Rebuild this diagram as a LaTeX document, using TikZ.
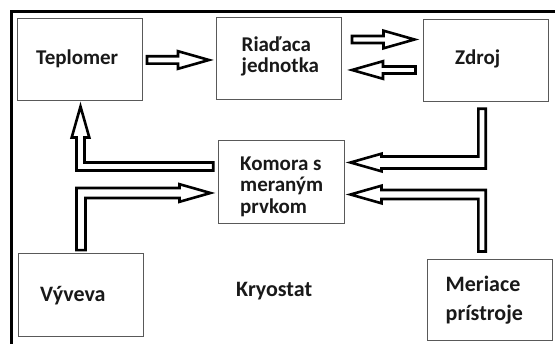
\documentclass[tikz,border=0pt]{standalone}
\usepackage{fontspec}
\setmainfont{Carlito}
\usetikzlibrary{calc}
\tikzset{
  box/.style={draw=black!65, line width=1pt, inner sep=0pt, minimum width=125pt, minimum height=82pt},
  txt/.style={font=\bfseries\fontsize{21}{21.3}\selectfont, inner sep=0pt, align=left, text=black!90},
  txtb/.style={font=\bfseries\fontsize{22}{29}\selectfont, inner sep=0pt, align=left, text=black!90},
  blk/.style={draw=black, fill=white, line width=2.6pt, line join=miter},
  frame/.style={draw=black, line width=3pt}
}
\def\aL{31pt}
\def\aH{8.8pt}
% straight block arrow: start, tip, shaft half width
\newcommand\blkS[3]{%
  \draw[blk] let \p1=(#1), \p2=(#2), \n1={sign(\x2-\x1)} in
  ({\x1},{\y1+#3}) -- ({\x2-(\n1)*\aL},{\y1+#3}) -- ({\x2-(\n1)*\aL},{\y1+\aH}) -- ({\x2},{\y1})
  -- ({\x2-(\n1)*\aL},{\y1-\aH}) -- ({\x2-(\n1)*\aL},{\y1-#3}) -- ({\x1},{\y1-#3}) -- cycle;}
% L block arrow, vertical then horizontal: start, tip, vertical half, horizontal half
\newcommand\blkVH[4]{%
  \draw[blk] let \p1=(#1), \p2=(#2), \n1={sign(\x2-\x1)}, \n2={sign(\y2-\y1)} in
  ({\x1+(\n1)*#3},{\y1}) -- ({\x1-(\n1)*#3},{\y1}) -- ({\x1-(\n1)*#3},{\y2+(\n2)*#4})
  -- ({\x2-(\n1)*\aL},{\y2+(\n2)*#4}) -- ({\x2-(\n1)*\aL},{\y2+(\n2)*\aH}) -- ({\x2},{\y2})
  -- ({\x2-(\n1)*\aL},{\y2-(\n2)*\aH}) -- ({\x2-(\n1)*\aL},{\y2-(\n2)*#4})
  -- ({\x1+(\n1)*#3},{\y2-(\n2)*#4}) -- cycle;}
% L block arrow, horizontal then vertical: start, tip, horizontal half, vertical half
\newcommand\blkHV[4]{%
  \draw[blk] let \p1=(#1), \p2=(#2), \n1={sign(\x2-\x1)}, \n2={sign(\y2-\y1)} in
  ({\x1},{\y1+(\n2)*#3}) -- ({\x1},{\y1-(\n2)*#3}) -- ({\x2+(\n1)*#4},{\y1-(\n2)*#3})
  -- ({\x2+(\n1)*#4},{\y2-(\n2)*\aL}) -- ({\x2+(\n1)*\aH},{\y2-(\n2)*\aL}) -- ({\x2},{\y2})
  -- ({\x2-(\n1)*\aH},{\y2-(\n2)*\aL}) -- ({\x2-(\n1)*#4},{\y2-(\n2)*\aL})
  -- ({\x2-(\n1)*#4},{\y1+(\n2)*#3}) -- cycle;}
\begin{document}
\begin{tikzpicture}[x=1pt,y=-1pt]
\useasboundingbox (0,0) rectangle (555,344);
\fill[white] (0,0) rectangle (555,344);
\clip (0,0) rectangle (555,344);
% outer frame (cryostat)
\draw[frame] (11,380) -- (11,11.5) -- (600,11.5);
% boxes
\node[box] (tep) at (79.5,60) {};
\node[box] (riad) at (279,59) {};
\node[box] (zdroj) at (485.5,61) {};
\node[box, minimum width=126pt, minimum height=83pt] (komora) at (281,182.5) {};
\node[box, minimum height=83pt] (vyv) at (80.5,295.5) {};
\node[box, minimum height=81pt] (mer) at (489.5,300.5) {};
% texts (base anchor = last line)
\node[txt, anchor=base west] (tepT) at (36,64.3) {Teplomer};
\node[txt, anchor=base west] (riadT) at (241.5,72.7) {Riaďaca\\jednotka};
\node[txt, anchor=base west] (zdrojT) at (455,65) {Zdroj};
\node[txt, anchor=base west] (komoraT) at (240,213.3) {Komora s\\meraným\\prvkom};
\node[txtb, anchor=base west] (vyvT) at (40,302) {Výveva};
\node[txtb, anchor=base west] (merT) at (445.5,321) {Meriace\\prístroje};
\node[txtb, anchor=base west] (kryoT) at (236,297) {Kryostat};
% connectors
\blkS{$(tep.east)+(4.5,0)$}{$(riad.west)+(-7,1)$}{3.7pt}
\blkS{$(riad.east)+(10,-19.5)$}{$(zdroj.west)+(-8,-21.5)$}{3.5pt}
\blkS{$(zdroj.west)+(-7,9)$}{$(riad.east)+(10,11)$}{3.5pt}
\blkVH{$(zdroj.south)+(-3.5,6.3)$}{$(komora.east)+(6,-20)$}{3.7pt}{6pt}
\blkVH{$(mer.north)+(-7.5,-8)$}{$(komora.east)+(6,12)$}{3.7pt}{4.5pt}
\blkHV{$(komora.west)+(-4.3,-16)$}{$(tep.south)+(1,5)$}{4pt}{4pt}
\blkVH{$(vyv.north)+(0.5,-3.3)$}{$(komora.west)+(-7,10.5)$}{4.5pt}{5pt}
\end{tikzpicture}
\end{document}
